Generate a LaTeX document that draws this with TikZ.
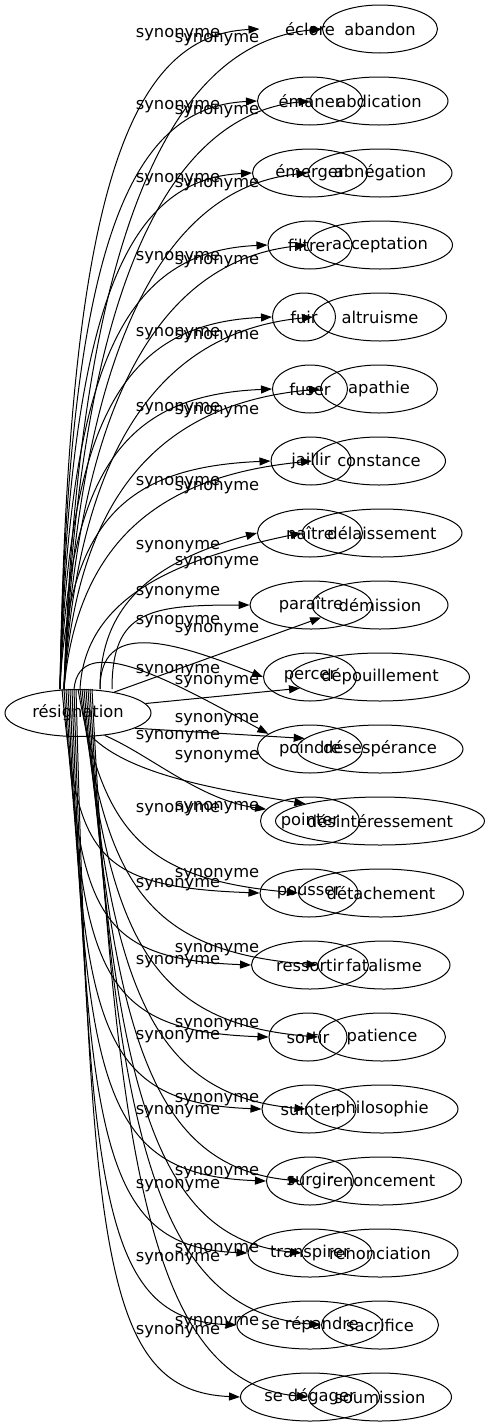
\documentclass[tikz,border=0pt]{standalone}
\usepackage{fontspec}
\setmainfont{DejaVu Sans}
\usetikzlibrary{shapes.geometric,arrows.meta}
\newcommand\gfont{\fontsize{16.3}{19}\selectfont}
\begin{document}
\begin{tikzpicture}[x=1pt,y=-1pt,
  word/.style={ellipse,draw,line width=1pt,inner sep=0pt,minimum height=48pt,font=\gfont},
  lbl/.style={inner sep=0pt,font=\gfont},
  edge/.style={line width=1pt,-{Triangle[length=11pt,width=8pt]}}]
\useasboundingbox (0,0) rectangle (490,1427);
\node[word,minimum width=146pt,minimum height=47pt] (res) at (78,713) {résignation};
% verbs
\node[word,draw=none,minimum width=100pt] (v0) at (310,29) {éclore};
\node[word,minimum width=105pt] (v1) at (310,101) {émaner};
\node[word,minimum width=115pt] (v2) at (310,173) {émerger};
\node[word,minimum width=84pt] (v3) at (310,245) {filtrer};
\node[word,minimum width=63pt] (v4) at (304,317) {fuir};
\node[word,minimum width=75pt] (v5) at (310,389) {fuser};
\node[word,minimum width=80pt] (v6) at (311,461) {jaillir};
\node[word,minimum width=105pt] (v7) at (310,533) {naître};
\node[word,minimum width=122pt] (v8) at (311,605) {paraître};
\node[word,minimum width=93pt] (v9) at (310,677) {percer};
\node[word,minimum width=105pt] (v10) at (310,749) {poindre};
\node[word,minimum width=99pt] (v11) at (310,821) {pointer};
\node[word,minimum width=98pt] (v12) at (309,893) {pousser};
\node[word,minimum width=117pt] (v13) at (310,965) {ressortir};
\node[word,minimum width=78pt] (v14) at (308,1037) {sortir};
\node[word,minimum width=94pt] (v15) at (309,1109) {suinter};
\node[word,minimum width=87pt] (v16) at (310,1181) {surgir};
\node[word,minimum width=124pt] (v17) at (310,1253) {transpirer};
\node[word,minimum width=146pt] (v18) at (310,1325) {se répandre};
\node[word,minimum width=139pt] (v19) at (310,1397) {se dégager};
% nouns
\node[word,minimum width=115pt] (n0) at (380,29) {abandon};
\node[word,minimum width=138pt] (n1) at (379,101) {abdication};
\node[word,minimum width=144pt] (n2) at (380,173) {abnégation};
\node[word,minimum width=145pt] (n3) at (380,245) {acceptation};
\node[word,minimum width=133pt] (n4) at (380,317) {altruisme};
\node[word,minimum width=117pt] (n5) at (379,389) {apathie};
\node[word,minimum width=133pt] (n6) at (379,461) {constance};
\node[word,minimum width=160pt] (n7) at (382,533) {délaissement};
\node[word,minimum width=136pt] (n8) at (380,605) {démission};
\node[word,minimum width=179pt] (n9) at (380,677) {dépouillement};
\node[word,minimum width=166pt] (n10) at (380,749) {désespérance};
\node[word,minimum width=209pt] (n11) at (380,821) {désintéressement};
\node[word,minimum width=165pt] (n12) at (381,893) {détachement};
\node[word,minimum width=132pt] (n13) at (384,965) {fatalisme};
\node[word,minimum width=127pt] (n14) at (382,1037) {patience};
\node[word,minimum width=152pt] (n15) at (382,1109) {philosophie};
\node[word,minimum width=161pt] (n16) at (381,1181) {renoncement};
\node[word,minimum width=156pt] (n17) at (380,1253) {renonciation};
\node[word,minimum width=117pt] (n18) at (380,1325) {sacrifice};
\node[word,minimum width=143pt] (n19) at (380,1397) {soumission};
% upper edges
\foreach \i/\la/\lb in {0/35/40,1/107/112,2/180/185,3/258/262,4/334/337,5/409/412,6/483/488}{
  \pgfmathsetmacro\yt{29+72*\i}
  \pgfmathsetmacro\pa{\yt+0.25*(690-\yt)}
  \pgfmathsetmacro\pb{\yt+0.32*(690-\yt)}
  \draw[edge] ([xshift=-18pt]res.north) .. controls (68,\pa) and (128,\yt+6) .. (v\i.west) node[lbl] (la\i) at (178,\la) {synonyme};
  \draw[edge] ([xshift=-14pt]res.north) .. controls (78,\pb) and (168,\yt+14) .. (n\i.west) node[lbl] (lb\i) at (217,\lb) {synonyme};
}
% middle edges
\draw[edge] ([xshift=22pt]res.north) .. controls (100,600) and (160,560) .. (v7.west) node[lbl] (la7) at (178,547) {synonyme};
\draw[edge] ([xshift=2pt]res.north) .. controls (85,600) and (170,560) .. (n7.west) node[lbl] (lb7) at (217,563) {synonyme};
\draw[edge] ([xshift=34pt]res.north) .. controls (112,610) and (150,605) .. (v8.west) node[lbl] (la8) at (178,593) {synonyme};
\draw[edge] (res.30) -- (n8.192) node[lbl] (lb8) at (178,622) {synonyme};
\draw[edge] ([xshift=22pt]res.north) .. controls (100,620) and (170,640) .. (v9.west) node[lbl] (la9) at (217,630) {synonyme};
\draw[edge] (res.8) -- (n9.188) node[lbl] (lb9) at (178,671) {synonyme};
\draw[edge] ([xshift=-4pt]res.north) .. controls (80,630) and (170,680) .. (v10.160) node[lbl] (la10) at (217,682) {synonyme};
\draw[edge] (res.-15) -- (n10.172) node[lbl] (lb10) at (217,720) {synonyme};
\draw[edge] (res.-40) .. controls (150,755) and (200,800) .. (v11.165) node[lbl] (la11) at (178,737) {synonyme};
\draw[edge] (res.-60) .. controls (130,775) and (220,790) .. (n11.167) node[lbl] (lb11) at (217,757) {synonyme};
% lower edges
\foreach \i/\xa/\ya/\xb/\yb in {12/178/810/217/808,13/217/875/178/885,14/217/950/178/962,15/217/1025/178/1037,16/217/1100/178/1112,17/217/1173/178/1186,18/217/1250/178/1259,19/217/1323/178/1332}{
  \pgfmathsetmacro\yt{29+72*\i}
  \pgfmathsetmacro\sa{-16+2*(\i-12)}
  \pgfmathsetmacro\sb{2*(\i-12)}
  \pgfmathsetmacro\xs{78+\sa}
  \pgfmathsetmacro\xt{78+\sb}
  \pgfmathsetmacro\pa{\yt-0.2*(\yt-690)}
  \pgfmathsetmacro\pb{\yt-0.3*(\yt-690)}
  \draw[edge] ([xshift=\sa pt]res.north) .. controls (\xs+15,\pa) and (\xs+28,\yt-6) .. (v\i.west) node[lbl] (la\i) at (\xa,\ya) {synonyme};
  \draw[edge] ([xshift=\sb pt]res.north) .. controls (\xt+25,\pb) and (\xt+65,\yt-14) .. (n\i.west) node[lbl] (lb\i) at (\xb,\yb) {synonyme};
}
\end{tikzpicture}
\end{document}
